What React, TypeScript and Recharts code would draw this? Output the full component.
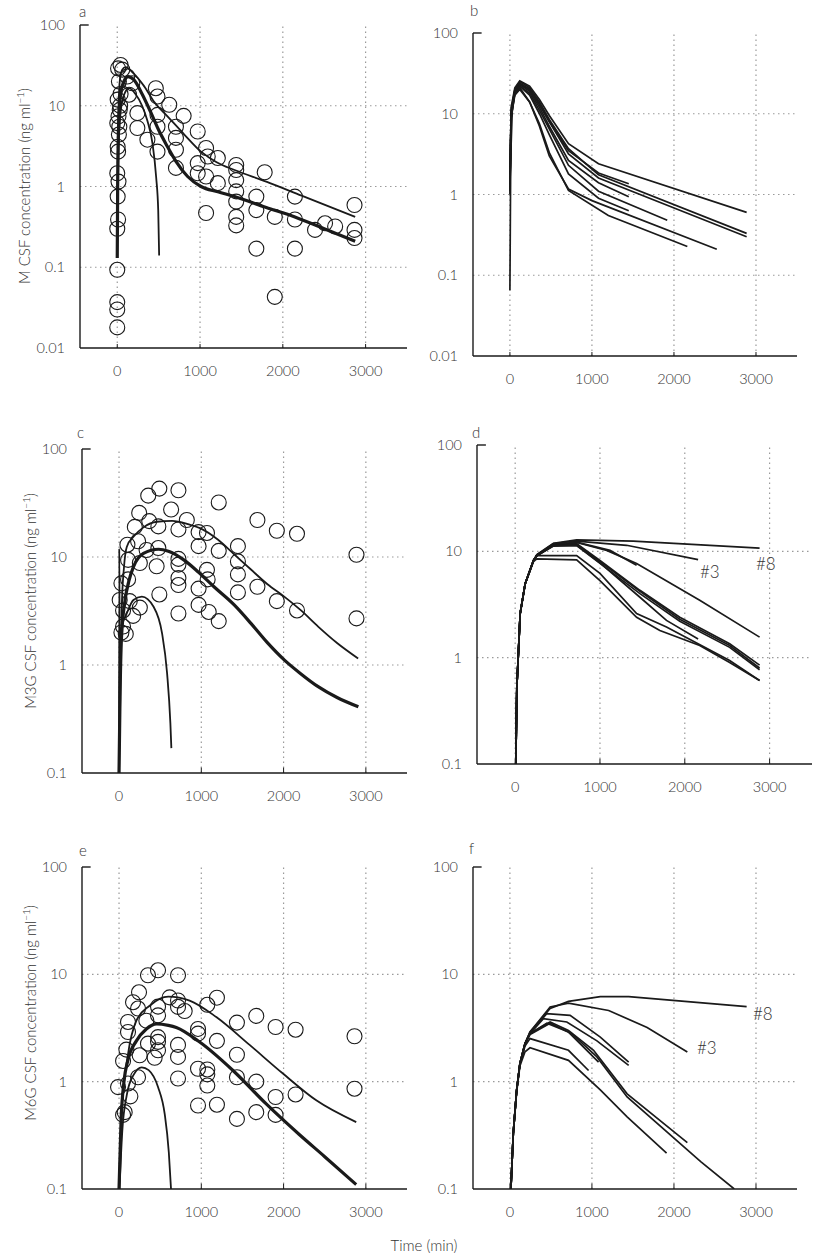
import React from 'react';
import { ComposedChart, Line, Scatter, XAxis, YAxis, ReferenceLine } from 'recharts';

type P = [number, number];

// shared axis values
const xTicks = [0, 1000, 2000, 3000];
const xDomain = [-450, 3500];
const yTicksA = [0.01, 0.1, 1, 10, 100];
const yTicksC = [0.1, 1, 10, 100];

// ---- a: morphine, observed + fitted
const aObs: P[] = [
  [40, 32], [10, 29], [60, 28], [20, 20], [40, 14], [5, 11.9], [35, 10], [30, 8.9], [15, 7.4], [0, 6.1],
  [25, 5.5], [20, 4.4], [5, 3.1], [10, 2.7], [0, 1.46], [15, 1.15], [5, 0.75], [10, 0.39], [0, 0.3],
  [0, 0.093], [0, 0.037], [0, 0.03], [0, 0.018],
  [121, 23], [182, 19], [142, 13.7], [243, 8.1], [243, 5.3], [364, 3.8], [466, 16.5], [486, 13], [486, 7.7],
  [486, 5.5], [486, 2.7], [628, 10.3], [709, 5.5], [709, 4], [709, 2.85], [709, 1.7], [802, 7.5], [972, 4.8],
  [972, 1.95], [972, 1.46], [1073, 3], [1093, 2.35], [1073, 1.33], [1073, 0.47], [1215, 2.25], [1215, 1.1],
  [1437, 1.85], [1437, 1.6], [1437, 1.2], [1437, 0.87], [1437, 0.65], [1437, 0.42], [1437, 0.33],
  [1680, 0.75], [1680, 0.51], [1680, 0.17], [1781, 1.5], [1903, 0.42], [1903, 0.043], [2146, 0.75],
  [2146, 0.39], [2146, 0.17], [2389, 0.29], [2510, 0.35], [2632, 0.32], [2866, 0.59], [2866, 0.29], [2866, 0.23],
];
const aFitThick: P[] = [
  [0, 0.13], [5, 1], [15, 5], [40, 14], [80, 20], [130, 23], [200, 21], [300, 14], [400, 8.5], [500, 5],
  [600, 3.2], [709, 2.05], [850, 1.33], [1012, 1.0], [1215, 0.86], [1417, 0.75], [1800, 0.55], [2146, 0.42],
  [2500, 0.3], [2874, 0.21],
];
const aFitUpper: P[] = [
  [0, 0.3], [10, 5], [30, 20], [60, 28], [100, 30], [200, 25], [324, 17.5], [450, 11], [607, 7.4],
  [810, 4.4], [1012, 2.7], [1200, 2.0], [1417, 1.6], [1800, 1.15], [2227, 0.77], [2874, 0.42],
];
const aFitShort: P[] = [
  [0, 0.25], [15, 3], [50, 10], [100, 15], [142, 16.5], [220, 14], [300, 10], [364, 6.5], [425, 3.45],
  [470, 1.3], [495, 0.5], [506, 0.14],
];

// ---- b: morphine, individual predictions
const bLines: P[][] = [
  [[0, 1.4], [15, 12], [60, 21], [120, 25.5], [240, 22], [360, 15], [480, 9.5], [714, 4.25], [1080, 2.4], [2886, 0.6]],
  [[0, 1.3], [15, 11], [60, 20], [120, 25], [240, 21], [360, 14], [480, 8.5], [714, 3.7], [1080, 1.75], [2886, 0.33]],
  [[0, 1.3], [15, 10], [60, 19], [120, 24], [240, 20], [360, 13], [480, 8], [714, 3.19], [1080, 1.6], [2886, 0.3]],
  [[0, 1.2], [15, 10], [60, 19], [120, 23], [240, 20], [360, 13], [480, 8], [714, 3.5], [1080, 1.85], [1449, 1.36]],
  [[0, 1.2], [15, 10], [60, 19], [120, 23], [240, 19], [360, 12], [480, 7], [714, 2.64], [1080, 1.4], [1449, 0.94]],
  [[0, 1.1], [15, 9], [60, 18], [120, 22], [240, 18], [360, 11], [480, 6.5], [714, 2.3], [1080, 1.1], [1918, 0.48]],
  [[0, 1.1], [15, 9], [60, 18], [120, 22], [240, 17], [360, 10], [480, 5.5], [714, 1.8], [1080, 0.9], [1449, 0.63]],
  [[0, 0.065], [10, 3], [30, 12], [60, 18], [120, 21], [240, 14], [360, 7.5], [480, 3.3], [714, 1.12], [1200, 0.55], [2163, 0.227]],
  [[0, 1.0], [15, 9], [60, 17], [120, 20], [240, 14], [360, 7], [480, 3], [714, 1.17], [1000, 0.84], [2522, 0.21]],
];

// ---- c: M3G, observed + fitted
const cObs: P[] = [
  [490, 43], [722, 41.5], [355, 37], [1212, 32], [245, 25.6], [633, 27.5], [824, 22], [1682, 22], [367, 21.5],
  [192, 19], [478, 19.2], [722, 18], [1918, 17.5], [2163, 16.4], [967, 17], [1069, 16.7], [102, 13], [232, 14],
  [335, 11.6], [478, 12.1], [967, 12.6], [1212, 11.4], [1445, 12.6], [2886, 10.5], [110, 9.4], [253, 8.8],
  [722, 9.6], [722, 8.5], [457, 8.2], [1445, 9.1], [1069, 7.6], [1077, 6.2], [1445, 6.9], [722, 6.4],
  [722, 5.5], [29, 5.7], [110, 6.2], [967, 5.1], [1682, 5.3], [490, 4.5], [1445, 4.7], [8, 4.0], [130, 3.9],
  [1918, 3.9], [967, 3.6], [253, 3.4], [1090, 3.1], [2163, 3.2], [722, 3.0], [171, 2.85], [1212, 2.55],
  [2886, 2.7], [49, 3.2], [49, 2.27], [82, 1.94], [29, 2.0],
];
const cFitUpper: P[] = [
  [0, 0.1], [15, 0.5], [33, 3.4], [60, 8], [94, 12.4], [175, 15.4], [297, 18.8], [461, 21.2], [645, 21.6],
  [850, 20], [991, 18.4], [1200, 14.5], [1399, 10.6], [1600, 7.7], [1804, 5.6], [2008, 4.3], [2212, 3.2],
  [2420, 2.27], [2650, 1.6], [2906, 1.15],
];
const cFitThick: P[] = [
  [0, 0.1], [12, 0.5], [30, 1.8], [73, 3.96], [120, 6], [175, 8.1], [297, 10.8], [481, 11.8], [600, 11.3],
  [787, 9.4], [960, 7.3], [1154, 5.3], [1400, 3.6], [1603, 2.43], [1800, 1.62], [2011, 1.11], [2200, 0.84],
  [2420, 0.63], [2650, 0.5], [2909, 0.41],
];
const cFitShort: P[] = [
  [0, 0.1], [3, 12], [8, 1.6], [30, 2.2], [94, 3.0], [175, 4.0], [278, 4.3], [420, 3.46], [522, 1.98],
  [584, 0.84], [624, 0.29], [636, 0.17],
];

// ---- d: M3G, individual predictions
const dLines: P[][] = [
  [[8, 0.1], [20, 0.53], [59, 2.6], [118, 4.97], [216, 8.2], [255, 9.3], [451, 11.9], [725, 12.8], [1392, 12.5], [2882, 10.7]],
  [[8, 0.1], [20, 0.53], [59, 2.6], [118, 4.97], [216, 8.2], [255, 9.2], [451, 11.8], [725, 12.5], [1314, 11.4], [2157, 8.35]],
  [[8, 0.1], [20, 0.53], [59, 2.6], [118, 4.97], [216, 8.2], [255, 9.2], [451, 11.6], [725, 12.1], [1079, 10.2], [1432, 7.67], [2176, 3.46], [2882, 1.56]],
  [[8, 0.1], [20, 0.53], [59, 2.6], [118, 4.97], [216, 8.2], [255, 9.2], [451, 11.6], [725, 12.2], [1118, 10.2], [1432, 7.4]],
  [[8, 0.1], [20, 0.53], [59, 2.6], [118, 4.97], [216, 8.2], [255, 9.1], [451, 11.5], [725, 11.8], [1000, 8.2], [1471, 4.3], [1941, 2.4], [2529, 1.35], [2882, 0.85]],
  [[8, 0.1], [20, 0.53], [59, 2.6], [118, 4.97], [216, 8.2], [255, 9.1], [451, 11.4], [725, 11.6], [1000, 8.0], [1471, 4.2], [1941, 2.3], [2529, 1.3], [2882, 0.8]],
  [[8, 0.1], [20, 0.53], [59, 2.6], [118, 4.97], [216, 8.2], [255, 9.1], [451, 11.3], [725, 11.3], [1000, 7.7], [1471, 4.0], [1941, 2.2], [2529, 1.25], [2882, 0.77]],
  [[8, 0.1], [20, 0.53], [59, 2.6], [118, 4.97], [216, 8.2], [255, 9.1], [451, 11.2], [725, 11.4], [1000, 7.8], [1471, 3.7], [1784, 2.24], [2157, 1.5]],
  [[8, 0.1], [20, 0.53], [59, 2.6], [118, 4.97], [216, 8.2], [255, 9.1], [725, 9.1], [1000, 6.2], [1432, 2.6], [1784, 1.94], [2529, 0.94], [2882, 0.61]],
  [[8, 0.1], [20, 0.53], [59, 2.6], [118, 4.97], [216, 8.0], [255, 8.5], [725, 8.3], [1000, 5.3], [1432, 2.4], [1706, 1.8], [2176, 1.3], [2529, 0.9], [2882, 0.61]],
];

// ---- e: M6G, observed + fitted
const eObs: P[] = [
  [474, 10.9], [352, 9.8], [717, 9.8], [243, 6.8], [615, 6.1], [717, 5.7], [1190, 6.06], [1073, 5.2], [170, 5.5],
  [231, 4.8], [474, 5.0], [717, 4.97], [798, 4.55], [474, 4.15], [1668, 4.1], [332, 3.7], [1433, 3.55],
  [109, 3.6], [1903, 3.23], [2146, 3.05], [960, 3.1], [960, 2.8], [109, 2.9], [2862, 2.65], [474, 2.6],
  [474, 2.35], [352, 2.26], [1190, 2.4], [717, 2.2], [474, 1.96], [89, 1.99], [251, 1.76], [1433, 1.78],
  [717, 1.7], [433, 1.67], [49, 1.56], [960, 1.32], [1073, 1.3], [1073, 1.17], [1433, 1.1], [231, 1.1],
  [717, 1.07], [1668, 1.0], [-12, 0.89], [109, 0.96], [1073, 0.92], [2862, 0.86], [2146, 0.76], [138, 0.73],
  [1903, 0.72], [960, 0.6], [1190, 0.61], [1668, 0.52], [69, 0.52], [49, 0.49], [1903, 0.49], [1433, 0.45],
];
const eFitUpper: P[] = [
  [0, 0.1], [30, 0.5], [109, 1.8], [211, 3.7], [372, 5.1], [599, 6.2], [858, 5.7], [1182, 4.0], [1587, 2.2],
  [1992, 1.19], [2397, 0.67], [2883, 0.42],
];
const eFitThick: P[] = [
  [0, 0.1], [25, 0.44], [60, 1.0], [109, 1.6], [211, 2.4], [332, 3.1], [458, 3.46], [600, 3.35], [696, 3.2],
  [980, 2.34], [1385, 1.27], [1789, 0.62], [2194, 0.32], [2500, 0.2], [2883, 0.11],
];
const eFitShort: P[] = [
  [5, 0.1], [40, 0.35], [94, 0.75], [175, 1.15], [276, 1.36], [360, 1.28], [474, 0.89], [555, 0.5],
  [605, 0.22], [632, 0.1],
];

// ---- f: M6G, individual predictions
const fLines: P[][] = [
  [[12, 0.1], [41, 0.33], [82, 0.83], [122, 1.47], [184, 2.26], [245, 2.9], [490, 4.8], [714, 5.6], [1102, 6.2], [1449, 6.2], [2886, 5.0]],
  [[12, 0.1], [41, 0.33], [82, 0.83], [122, 1.47], [184, 2.26], [245, 2.9], [490, 4.96], [714, 5.4], [1204, 4.6], [1673, 3.2], [2163, 1.89]],
  [[12, 0.1], [41, 0.33], [82, 0.83], [122, 1.47], [184, 2.26], [245, 2.85], [449, 4.3], [734, 4.15], [1102, 2.6], [1448, 1.52]],
  [[12, 0.1], [41, 0.33], [82, 0.83], [122, 1.47], [184, 2.26], [245, 2.8], [408, 3.86], [694, 3.6], [1061, 2.4], [1448, 1.42]],
  [[12, 0.1], [41, 0.33], [82, 0.83], [122, 1.47], [184, 2.26], [245, 2.8], [490, 3.6], [714, 3.0], [1020, 1.96], [1429, 0.77], [2163, 0.27]],
  [[12, 0.1], [41, 0.33], [82, 0.83], [122, 1.47], [184, 2.26], [245, 2.75], [490, 3.5], [755, 2.8], [1061, 1.7], [1429, 0.72], [2326, 0.18], [2735, 0.1]],
  [[12, 0.1], [41, 0.33], [82, 0.83], [122, 1.47], [184, 2.26], [245, 2.8], [450, 3.5], [714, 2.9], [1081, 1.52]],
  [[12, 0.1], [41, 0.33], [82, 0.83], [122, 1.45], [184, 2.15], [245, 2.52], [714, 1.96], [959, 1.27]],
  [[12, 0.1], [41, 0.33], [82, 0.8], [122, 1.4], [184, 1.9], [245, 2.07], [714, 1.58], [1102, 0.84], [1429, 0.47], [1910, 0.216]],
];

const FONT = "Lato, 'Open Sans', sans-serif";
const INK = '#1a1a1a';
const TEXT = '#333';

const toXY = (p: P[]) => p.map(([x, y]) => ({ x, y }));

interface Curve { pts: P[]; w: number; smooth?: boolean }
interface Frame { l: number; t: number; r: number; b: number }

const Ring = (props: any) => (
  <circle cx={props.cx} cy={props.cy} r={7.5} fill="none" stroke={INK} strokeWidth={1.1} />
);

const Panel: React.FC<{ f: Frame; yTicks: number[]; curves: Curve[]; obs?: P[] }> = ({ f, yTicks, curves, obs }) => {
  const yMin = yTicks[0];
  const yMax = yTicks[yTicks.length - 1];
  const w = f.r - f.l + 60 + 10;
  const h = f.b - f.t + 10 + 40;
  const dots = { stroke: '#9a9a9a', strokeDasharray: '1.5 3.5', strokeWidth: 1.2 };
  const tickStyle = { fill: TEXT, fontSize: 14.5, fontFamily: FONT, fontWeight: 300 };
  return (
    <div style={{ position: 'absolute', left: f.l - 60, top: f.t - 10, width: w, height: h }}>
      <ComposedChart width={w} height={h} margin={{ top: 10, right: 10, bottom: 0, left: 0 }}>
        <XAxis
          dataKey="x" type="number" domain={xDomain} ticks={xTicks} allowDataOverflow
          tickLine={false} tickSize={0} tickMargin={18} height={40}
          axisLine={{ stroke: INK, strokeWidth: 1.4 }}
          tick={tickStyle}
        />
        <YAxis
          dataKey="y" type="number" scale="log" domain={[yMin, yMax]} ticks={yTicks} allowDataOverflow
          tickLine={false} tickSize={0} tickMargin={15} width={60}
          tickFormatter={(v: number) => String(v)}
          axisLine={{ stroke: INK, strokeWidth: 1.4 }}
          tick={tickStyle}
        />
        {xTicks.map((x) => (
          <ReferenceLine key={'vx' + x} x={x} {...dots} />
        ))}
        {yTicks.slice(1, -1).map((y) => (
          <ReferenceLine key={'hy' + y} y={y} {...dots} />
        ))}
        <ReferenceLine segment={[{ x: -450, y: yMax }, { x: -345, y: yMax }]} stroke={INK} strokeWidth={1.4} />
        {xTicks.map((x) => (
          <ReferenceLine key={'tx' + x} segment={[{ x, y: yMin }, { x, y: yMin * 1.12 }]} stroke={INK} strokeWidth={1} />
        ))}
        {curves.map((c, i) => (
          <Line
            key={'c' + i} data={toXY(c.pts)} dataKey="y" type={c.smooth ? 'monotone' : 'linear'}
            stroke={INK} strokeWidth={c.w} dot={false} activeDot={false} isAnimationActive={false}
          />
        ))}
        {obs && <Scatter data={toXY(obs)} dataKey="y" shape={Ring} isAnimationActive={false} />}
      </ComposedChart>
    </div>
  );
};

const txt = (s: React.CSSProperties): React.CSSProperties => ({
  position: 'absolute', fontFamily: FONT, fontWeight: 300, color: TEXT, lineHeight: 1, whiteSpace: 'nowrap', ...s,
});

const YLabel: React.FC<{ name: string; x: number; y: number }> = ({ name, x, y }) => (
  <div style={txt({ left: x, top: y, fontSize: 15, transform: 'translate(-50%, -50%) rotate(-90deg)' })}>
    {name} CSF concentration (ng ml<sup style={{ fontSize: 10 }}>−1</sup>)
  </div>
);

export default function App() {
  return (
    <div style={{ position: 'absolute', left: 0, top: 0, width: 815, height: 1257, background: '#fff', overflow: 'hidden' }}>
      <Panel f={{ l: 80, t: 25, r: 407, b: 348 }} yTicks={yTicksA} obs={aObs}
        curves={[{ pts: aFitUpper, w: 1.8, smooth: true }, { pts: aFitShort, w: 1.8, smooth: true }, { pts: aFitThick, w: 3.2, smooth: true }]} />
      <Panel f={{ l: 473, t: 33, r: 797, b: 356 }} yTicks={yTicksA} curves={bLines.map((pts) => ({ pts, w: 1.7 }))} />
      <Panel f={{ l: 82, t: 449, r: 407, b: 773 }} yTicks={yTicksC} obs={cObs}
        curves={[{ pts: cFitUpper, w: 1.8, smooth: true }, { pts: cFitShort, w: 1.8, smooth: true }, { pts: cFitThick, w: 3.2, smooth: true }]} />
      <Panel f={{ l: 477, t: 445, r: 812, b: 764 }} yTicks={yTicksC} curves={dLines.map((pts) => ({ pts, w: 1.7 }))} />
      <Panel f={{ l: 82, t: 867, r: 407, b: 1189 }} yTicks={yTicksC} obs={eObs}
        curves={[{ pts: eFitUpper, w: 1.8, smooth: true }, { pts: eFitShort, w: 1.8, smooth: true }, { pts: eFitThick, w: 3.2, smooth: true }]} />
      <Panel f={{ l: 473, t: 867, r: 797, b: 1189 }} yTicks={yTicksC} curves={fLines.map((pts) => ({ pts, w: 1.7 }))} />

      <YLabel name="M" x={23} y={186} />
      <YLabel name="M3G" x={29} y={601} />
      <YLabel name="M6G" x={29} y={1013} />

      <div style={txt({ left: 79, top: 4, fontSize: 15 })}>a</div>
      <div style={txt({ left: 470, top: 3, fontSize: 15 })}>b</div>
      <div style={txt({ left: 77, top: 425, fontSize: 15 })}>c</div>
      <div style={txt({ left: 472, top: 425, fontSize: 15 })}>d</div>
      <div style={txt({ left: 79, top: 843, fontSize: 15 })}>e</div>
      <div style={txt({ left: 469, top: 841, fontSize: 15 })}>f</div>

      <div style={txt({ left: 700, top: 563, fontSize: 17 })}>#3</div>
      <div style={txt({ left: 756, top: 555, fontSize: 17 })}>#8</div>
      <div style={txt({ left: 753, top: 1005, fontSize: 17 })}>#8</div>
      <div style={txt({ left: 697, top: 1039, fontSize: 17 })}>#3</div>

      <div style={txt({ left: 424, top: 1238, fontSize: 15, transform: 'translateX(-50%)' })}>Time (min)</div>
    </div>
  );
}
